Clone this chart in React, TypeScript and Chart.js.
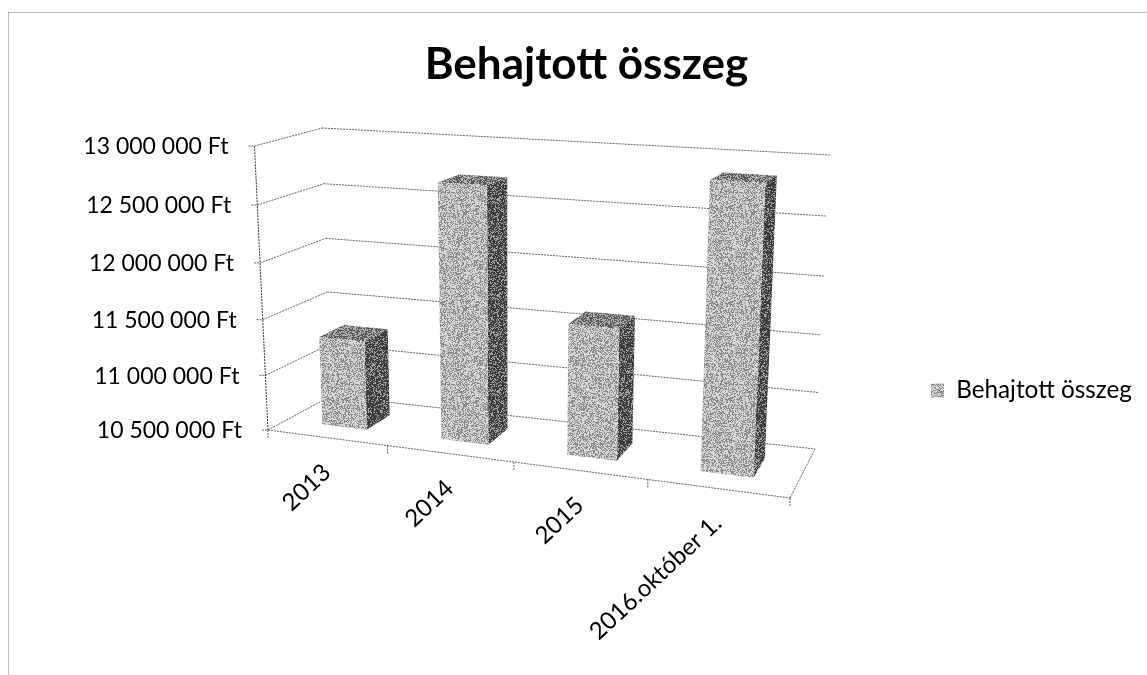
import React, { useEffect, useRef } from "react";
import { Chart, registerables } from "chart.js";

Chart.register(...registerables);

const categories = ["2013", "2014", "2015", "2016.október 1."];
const seriesName = "Behajtott összeg";
const values = [11300000, 12720000, 11620000, 12860000];
const yMin = 10500000;
const yMax = 13000000;
const yStep = 500000;

const FONT = "Lato, Carlito, 'Open Sans', sans-serif";

type P = [number, number];
const FLB: P = [268, 430], FRB: P = [790, 498], FLT: P = [254.5, 146], FRT: P = [805, 172];
const BLB: P = [331, 396], BRB: P = [815, 449], BLT: P = [322, 128], BRT: P = [830, 155];
const PERSP = 1.123;
const VPERSP = 1.05;
const lerp = (a: P, b: P, t: number): P => [a[0] + (b[0] - a[0]) * t, a[1] + (b[1] - a[1]) * t];
function project(u: number, d: number, v: number): P {
  const w = u / (PERSP + (1 - PERSP) * u);
  const h = v / (VPERSP + (1 - VPERSP) * v);
  const bot = lerp(lerp(FLB, FRB, w), lerp(BLB, BRB, w), d);
  const top = lerp(lerp(FLT, FRT, w), lerp(BLT, BRT, w), d);
  return lerp(bot, top, h);
}

function hash(x: number, y: number) {
  const s = Math.sin(x * 12.9898 + y * 78.233) * 43758.5453;
  return s - Math.floor(s);
}
function dither(ctx: CanvasRenderingContext2D, darkShare: number, dark: string, light: string) {
  const c = document.createElement("canvas");
  c.width = c.height = 96;
  const g = c.getContext("2d")!;
  for (let y = 0; y < 96; y++) {
    for (let x = 0; x < 96; x++) {
      g.fillStyle = hash(x, y) < darkShare ? dark : light;
      g.fillRect(x, y, 1, 1);
    }
  }
  return ctx.createPattern(c, "repeat")!;
}

function poly(ctx: CanvasRenderingContext2D, pts: P[], fill: any) {
  ctx.beginPath();
  pts.forEach((p, i) => (i ? ctx.lineTo(p[0], p[1]) : ctx.moveTo(p[0], p[1])));
  ctx.closePath();
  ctx.fillStyle = fill;
  ctx.fill();
}
function seg(ctx: CanvasRenderingContext2D, a: P, b: P) {
  ctx.beginPath();
  ctx.moveTo(a[0], a[1]);
  ctx.lineTo(b[0], b[1]);
  ctx.stroke();
}

const DEPTH_FRONT = 0.3;
const DEPTH_BACK = 0.7;

export default function App() {
  const ref = useRef<HTMLCanvasElement>(null);
  useEffect(() => {
    const canvas = ref.current!;
    const ctx = canvas.getContext("2d")!;
    const frontFill = dither(ctx, 0.45, "#8a8a8a", "#d6d6d6");
    const sideFill = dither(ctx, 0.68, "#3c3c3c", "#a0a0a0");
    const topFill = dither(ctx, 0.55, "#585858", "#b0b0b0");

    const scene = {
      id: "scene",
      afterLayout(chart: any) {
        chart.legend.top += 53;
        chart.legend.bottom += 53;
        chart.legend.left -= 5;
        chart.legend.right -= 5;
      },
      beforeDatasetsDraw(chart: any) {
        const c = chart.ctx;
        const ys = chart.scales.y;
        const xs = chart.scales.x;
        const vOf = (val: number) => (ys.bottom - ys.getPixelForValue(val)) / (ys.bottom - ys.top);
        c.save();
        // frame
        c.strokeStyle = "#777777";
        c.lineWidth = 1;
        c.setLineDash([1, 1]);
        seg(c, [8.5, 12.5], [1147, 12.5]);
        seg(c, [8.5, 12.5], [8.5, 675]);
        // walls and gridlines
        c.strokeStyle = "#666666";
        c.setLineDash([2, 1]);
        ys.ticks.forEach((t: any) => {
          const v = vOf(t.value);
          const fl = project(0, 0, v), bl = project(0, 1, v), br = project(1, 1, v);
          seg(c, [fl[0] - 6, fl[1]], fl);
          seg(c, fl, bl);
          seg(c, bl, br);
          c.fillStyle = "#000000";
          c.font = `23px ${FONT}`;
          c.textAlign = "right";
          c.textBaseline = "middle";
          c.fillText(t.label, fl[0] - 26, fl[1] + 1);
        });
        // floor
        seg(c, project(0, 0, 0), project(1, 0, 0));
        seg(c, project(1, 0, 0), project(1, 1, 0));
        c.strokeStyle = "#333333";
        seg(c, project(0, 0, 0), project(0, 0, 1));
        c.strokeStyle = "#666666";
        // category ticks and labels
        for (let i = 0; i <= categories.length; i++) {
          const p = project(i / categories.length, 0, 0);
          seg(c, p, [p[0], p[1] + 8]);
        }
        xs.ticks.forEach((t: any, i: number) => {
          const u = (xs.getPixelForTick(i) - xs.left) / (xs.right - xs.left);
          const p = project(u, 0, 0);
          c.save();
          c.translate(p[0], p[1] + 31);
          c.rotate((-43 * Math.PI) / 180);
          c.fillStyle = "#000000";
          c.font = `24px ${FONT}`;
          c.textAlign = "right";
          c.textBaseline = "middle";
          c.fillText(String(t.label), 0, 0);
          c.restore();
        });
        c.restore();
      },
      beforeDatasetDraw(chart: any) {
        const c = chart.ctx;
        const xs = chart.scales.x;
        const ys = chart.scales.y;
        const toU = (x: number) => (x - xs.left) / (xs.right - xs.left);
        const toV = (y: number) => (ys.bottom - y) / (ys.bottom - ys.top);
        chart.getDatasetMeta(0).data.forEach((el: any) => {
          const u0 = toU(el.x - el.width / 2);
          const u1 = toU(el.x + el.width / 2);
          const v0 = toV(el.base);
          const v1 = toV(el.y);
          const f = DEPTH_FRONT, b = DEPTH_BACK;
          poly(c, [project(u1, f, v0), project(u1, b, v0), project(u1, b, v1), project(u1, f, v1)], sideFill);
          poly(c, [project(u0, f, v1), project(u1, f, v1), project(u1, b, v1), project(u0, b, v1)], topFill);
          poly(c, [project(u0, f, v0), project(u1, f, v0), project(u1, f, v1), project(u0, f, v1)], frontFill);
        });
        return false;
      },
    };

    const chart = new Chart(ctx, {
      type: "bar",
      data: {
        labels: categories,
        datasets: [
          {
            label: seriesName,
            data: values,
            base: yMin,
            backgroundColor: frontFill as any,
            barPercentage: 0.38,
            categoryPercentage: 1,
          },
        ],
      },
      plugins: [scene as any],
      options: {
        animation: false,
        responsive: false,
        layout: { padding: { left: 26, right: 0, top: 0, bottom: 0 } },
        plugins: {
          tooltip: { enabled: false },
          title: {
            display: true,
            text: seriesName,
            color: "#000000",
            font: { family: FONT, size: 44, weight: "bold" },
            padding: { top: 38, bottom: 20 },
          },
          legend: {
            position: "right",
            labels: {
              color: "#000000",
              font: { family: FONT, size: 24.3 },
              boxWidth: 13,
              boxHeight: 14,
              padding: 14,
            },
          },
        },
        scales: {
          x: { display: false },
          y: {
            display: false,
            min: yMin,
            max: yMax,
            ticks: {
              stepSize: yStep,
              callback: (v: any) => String(v).replace(/\B(?=(\d{3})+$)/g, " ") + " Ft",
            },
          },
        },
      } as any,
    });
    return () => chart.destroy();
  }, []);
  return (
    <canvas
      ref={ref}
      width={1147}
      height={675}
      style={{ position: "fixed", left: 0, top: 0, width: 1147, height: 675, display: "block" }}
    />
  );
}
